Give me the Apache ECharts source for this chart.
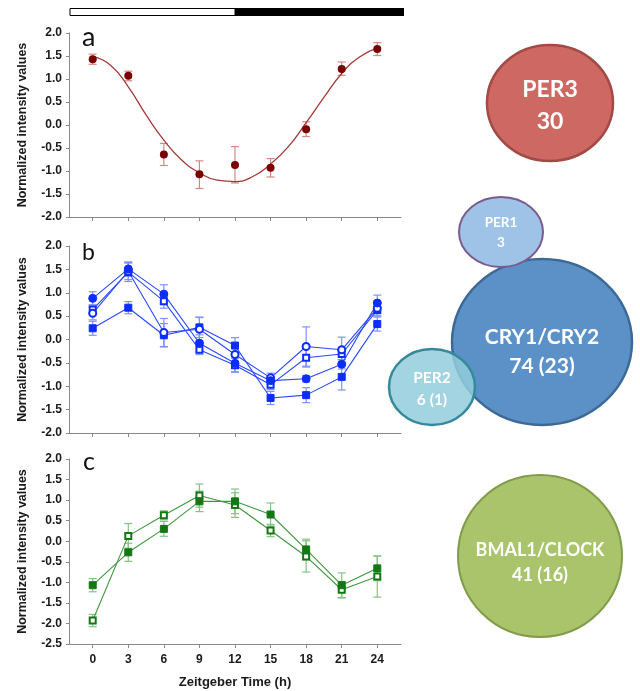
<!DOCTYPE html>
<html>
<head>
<meta charset="utf-8">
<script src="https://cdn.jsdelivr.net/npm/echarts@6/dist/echarts.min.js"></script>
<style>
html,body{margin:0;padding:0;background:#fff;}
#chart{width:640px;height:691px;}
</style>
</head>
<body>
<div id="chart"></div>
<script>
// ---------- data ----------
const hours = [0, 3, 6, 9, 12, 15, 18, 21, 24];

// panel a: PER3 (red)
const per3Mean = [1.43, 1.07, -0.64, -1.07, -0.87, -0.93, -0.09, 1.22, 1.65];
const per3Low  = [1.32, 0.96, -0.88, -1.38, -1.26, -1.13, -0.25, 1.08, 1.51];
const per3High = [1.54, 1.17, -0.40, -0.78, -0.47, -0.73, 0.07, 1.37, 1.79];
const fitHours = [0, 1.5, 3, 4.5, 6, 7.5, 9, 10.5, 12, 13.5, 15, 16.5, 18, 19.5, 21, 22.5, 24];
const per3Fit  = [1.49, 1.30, 0.83, 0.22, -0.33, -0.76, -1.04, -1.20, -1.23, -1.12, -0.85, -0.47, 0.05, 0.60, 1.12, 1.48, 1.67];

// panel b: CRY1/CRY2 (blue)
const bFilledCircle    = [0.88, 1.51, 0.97, -0.08, -0.51, -0.88, -0.84, -0.53, 0.78];
const bFilledCircleErr = [0.14, 0.15, 0.20, 0.18, 0.18, 0.08, 0.07, 0.10, 0.17];
const bOpenCircle      = [0.56, 1.46, 0.15, 0.22, -0.32, -0.82, -0.15, -0.22, 0.67];
const bOpenCircleErr   = [0.14, 0.18, 0.30, 0.25, 0.20, 0.10, 0.42, 0.27, 0.15];
const bOpenSquare      = [0.64, 1.44, 0.82, -0.22, -0.55, -0.97, -0.39, -0.31, 0.63];
const bOpenSquareErr   = [0.10, 0.20, 0.15, 0.10, 0.15, 0.10, 0.20, 0.12, 0.13];
const bFilledSquare    = [0.24, 0.68, 0.09, 0.26, -0.13, -1.25, -1.19, -0.80, 0.33];
const bFilledSquareErr = [0.15, 0.13, 0.25, 0.22, 0.17, 0.14, 0.16, 0.28, 0.15];

// panel c: BMAL1/CLOCK (green)
const cFilled    = [-1.07, -0.27, 0.30, 0.97, 0.97, 0.65, -0.20, -1.07, -0.66];
const cFilledErr = [0.16, 0.22, 0.18, 0.25, 0.30, 0.28, 0.25, 0.30, 0.30];
const cOpen      = [-1.93, 0.13, 0.63, 1.11, 0.88, 0.26, -0.37, -1.18, -0.86];
const cOpenErr   = [0.15, 0.30, 0.11, 0.28, 0.30, 0.15, 0.38, 0.20, 0.50];

// light / dark phases (h)
const lightPhase = [-2, 12];
const darkPhase = [12, 26];

// bubbles on the right
const bubbleNames  = ['PER3', 'CRY1/CRY2', 'PER1', 'PER2', 'BMAL1/CLOCK'];
const bubbleCounts = ['30', '74 (23)', '3', '6 (1)', '41 (16)'];

// ---------- helpers ----------
const pts = (ys) => hours.map((h, i) => [h, ys[i]]);
const errPts = (ys, e) => hours.map((h, i) => [h, ys[i] - e[i], ys[i] + e[i]]);
const errLH = (lo, hi) => hours.map((h, i) => [h, lo[i], hi[i]]);

function errRender(color) {
  return function (params, api) {
    const x = api.value(0), lo = api.value(1), hi = api.value(2);
    const a = api.coord([x, lo]), b = api.coord([x, hi]);
    const w = 4;
    const st = { stroke: color, lineWidth: 1.2 };
    return {
      type: 'group',
      children: [
        { type: 'line', shape: { x1: a[0], y1: a[1], x2: b[0], y2: b[1] }, style: st },
        { type: 'line', shape: { x1: a[0] - w, y1: a[1], x2: a[0] + w, y2: a[1] }, style: st },
        { type: 'line', shape: { x1: b[0] - w, y1: b[1], x2: b[0] + w, y2: b[1] }, style: st }
      ]
    };
  };
}
function errSeries(idx, data, color) {
  return {
    type: 'custom', xAxisIndex: idx, yAxisIndex: idx, data: data,
    renderItem: errRender(color), encode: { x: 0, y: [1, 2] }, z: 1, silent: true
  };
}

const FONT = '"Liberation Sans", Arial, sans-serif';
const axisGray = '#8a8a8a';
const labelCol = '#1a1a1a';

function xAxis(idx, withLabels) {
  return {
    type: 'value', gridIndex: idx, min: -2, max: 26,
    axisLine: { show: true, onZero: false, lineStyle: { color: axisGray, width: 1 } },
    axisTick: { show: true, customValues: hours, length: 4, inside: false, lineStyle: { color: axisGray } },
    axisLabel: withLabels ? { show: true, customValues: hours, margin: 10, fontFamily: FONT, fontWeight: 'bold', fontSize: 12, color: labelCol } : { show: false },
    splitLine: { show: false },
    name: withLabels ? 'Zeitgeber Time (h)' : '',
    nameLocation: 'middle', nameGap: 32,
    nameTextStyle: { fontFamily: FONT, fontWeight: 'bold', fontSize: 13, color: labelCol }
  };
}
function yAxis(idx, min, max) {
  return {
    type: 'value', gridIndex: idx, min: min, max: max, interval: 0.5,
    axisLine: { show: true, onZero: false, lineStyle: { color: axisGray, width: 1 } },
    axisTick: { show: true, length: 3, inside: false, lineStyle: { color: axisGray } },
    axisLabel: { formatter: (v) => v.toFixed(1), margin: 7, fontFamily: FONT, fontWeight: 'bold', fontSize: 12, color: labelCol },
    splitLine: { show: false },
    name: 'Normalized intensity values', nameLocation: 'middle', nameGap: 40, nameRotate: 90,
    nameTextStyle: { fontFamily: FONT, fontWeight: 'bold', fontSize: 12.5, color: labelCol }
  };
}

const red = '#7a0000', redLine = '#a33a38', redErr = '#cf8a88';
const blue = '#0b2dff', blueLine = '#2a48ff', blueErr = '#7f90ff';
const green = '#137713', greenLine = '#3f973f', greenErr = '#86c286';

function lineSeries(idx, data, symbol, size, mColor, lColor, bw) {
  return {
    type: 'line', xAxisIndex: idx, yAxisIndex: idx, data: data,
    symbol: symbol, symbolSize: size, showAllSymbol: true,
    itemStyle: { color: mColor, borderColor: mColor, borderWidth: bw },
    lineStyle: { color: lColor, width: 1.1 }, z: 3, animation: false
  };
}

const series = [
  // panel a
  errSeries(0, errLH(per3Low, per3High), redErr),
  {
    type: 'line', xAxisIndex: 0, yAxisIndex: 0, data: fitHours.map((h, i) => [h, per3Fit[i]]),
    smooth: 0.5, showSymbol: false, lineStyle: { color: redLine, width: 1.3 }, z: 2, animation: false
  },
  {
    type: 'scatter', xAxisIndex: 0, yAxisIndex: 0, data: pts(per3Mean),
    symbol: 'circle', symbolSize: 8, itemStyle: { color: red, opacity: 1 }, z: 4, animation: false
  },
  // panel b
  errSeries(1, errPts(bFilledCircle, bFilledCircleErr), blueErr),
  errSeries(1, errPts(bOpenCircle, bOpenCircleErr), blueErr),
  errSeries(1, errPts(bOpenSquare, bOpenSquareErr), blueErr),
  errSeries(1, errPts(bFilledSquare, bFilledSquareErr), blueErr),
  lineSeries(1, pts(bFilledSquare), 'rect', 7, blue, blueLine, 1),
  lineSeries(1, pts(bOpenSquare), 'emptyRect', 6, blue, blueLine, 0.9),
  lineSeries(1, pts(bOpenCircle), 'emptyCircle', 7, blue, blueLine, 0.9),
  lineSeries(1, pts(bFilledCircle), 'circle', 8, blue, blueLine, 1),
  // panel c
  errSeries(2, errPts(cFilled, cFilledErr), greenErr),
  errSeries(2, errPts(cOpen, cOpenErr), greenErr),
  lineSeries(2, pts(cOpen), 'emptyRect', 6, green, greenLine, 0.9),
  lineSeries(2, pts(cFilled), 'rect', 7, green, greenLine, 1)
];

// ---------- bubbles (decorative layout) ----------
const BFONT = 'Lato, "Open Sans", sans-serif';
const bubbleLayout = [
  { cx: 550, cy: 103, rx: 63, ry: 58, fill: '#cd6862', stroke: '#a24a45', lw: 2.5, fs: 23, y1: 90, y2: 122 },
  { cx: 542, cy: 342, rx: 90, ry: 83, fill: '#5c91c8', stroke: '#3d6996', lw: 2.5, fs: 21, y1: 337, y2: 366 },
  { cx: 501, cy: 232, rx: 42, ry: 35, fill: '#9fc3e7', stroke: '#7a5b8e', lw: 2, fs: 13.5, y1: 223, y2: 243 },
  { cx: 432, cy: 387, rx: 43, ry: 38, fill: 'rgba(146,205,220,0.85)', stroke: '#35899b', lw: 2.5, fs: 15.5, y1: 378, y2: 400 },
  { cx: 540, cy: 556, rx: 82, ry: 81, fill: '#a9c46b', stroke: '#809b4a', lw: 2, fs: 18, y1: 550, y2: 575 }
];
const bubbleGraphics = [];
bubbleLayout.forEach((b, i) => {
  bubbleGraphics.push({
    type: 'ellipse', shape: { cx: b.cx, cy: b.cy, rx: b.rx, ry: b.ry },
    style: { fill: b.fill, stroke: b.stroke, lineWidth: b.lw }, z: 10 + i * 2
  });
  bubbleGraphics.push({
    type: 'text', x: b.cx, y: b.y1, z: 11 + i * 2,
    style: { text: bubbleNames[i], fill: '#fff', font: 'bold ' + b.fs + 'px ' + BFONT, align: 'center', verticalAlign: 'middle' }
  });
  bubbleGraphics.push({
    type: 'text', x: b.cx, y: b.y2, z: 11 + i * 2,
    style: { text: bubbleCounts[i], fill: '#fff', font: 'bold ' + b.fs + 'px ' + BFONT, align: 'center', verticalAlign: 'middle' }
  });
});

const panelLabels = [
  { text: 'a', x: 82, y: 37, fs: 27 },
  { text: 'b', x: 82, y: 253, fs: 23 },
  { text: 'c', x: 83, y: 462, fs: 25 }
];
panelLabels.forEach((p) => {
  bubbleGraphics.push({
    type: 'text', x: p.x, y: p.y, z: 20,
    style: { text: p.text, fill: '#111', font: p.fs + 'px ' + BFONT, align: 'left', verticalAlign: 'middle' }
  });
});

const chart = echarts.init(document.getElementById('chart'), null, { renderer: 'canvas' });
chart.setOption({
  animation: false,
  backgroundColor: '#fff',
  grid: [
    { left: 69, top: 33, width: 332, height: 184 },
    { left: 69, top: 246, width: 332, height: 187 },
    { left: 69, top: 459, width: 332, height: 185 }
  ],
  xAxis: [xAxis(0, false), xAxis(1, false), xAxis(2, true)],
  yAxis: [yAxis(0, -2, 2), yAxis(1, -2, 2), yAxis(2, -2.5, 2)],
  series: series,
  graphic: bubbleGraphics
});

// light/dark bar above panel a, positioned via the axis scale
const l0 = chart.convertToPixel({ xAxisIndex: 0 }, lightPhase[0]);
const l1 = chart.convertToPixel({ xAxisIndex: 0 }, lightPhase[1]);
const d1 = chart.convertToPixel({ xAxisIndex: 0 }, darkPhase[1]) + 3;
bubbleGraphics.push(
  { type: 'rect', shape: { x: l0 + 1, y: 8.5, width: l1 - l0 - 1, height: 7 }, style: { fill: '#fff', stroke: '#000', lineWidth: 1 }, z: 20 },
  { type: 'rect', shape: { x: l1, y: 8, width: d1 - l1, height: 8 }, style: { fill: '#000' }, z: 20 }
);
chart.setOption({ graphic: bubbleGraphics }, { replaceMerge: ['graphic'] });
</script>
</body>
</html>
